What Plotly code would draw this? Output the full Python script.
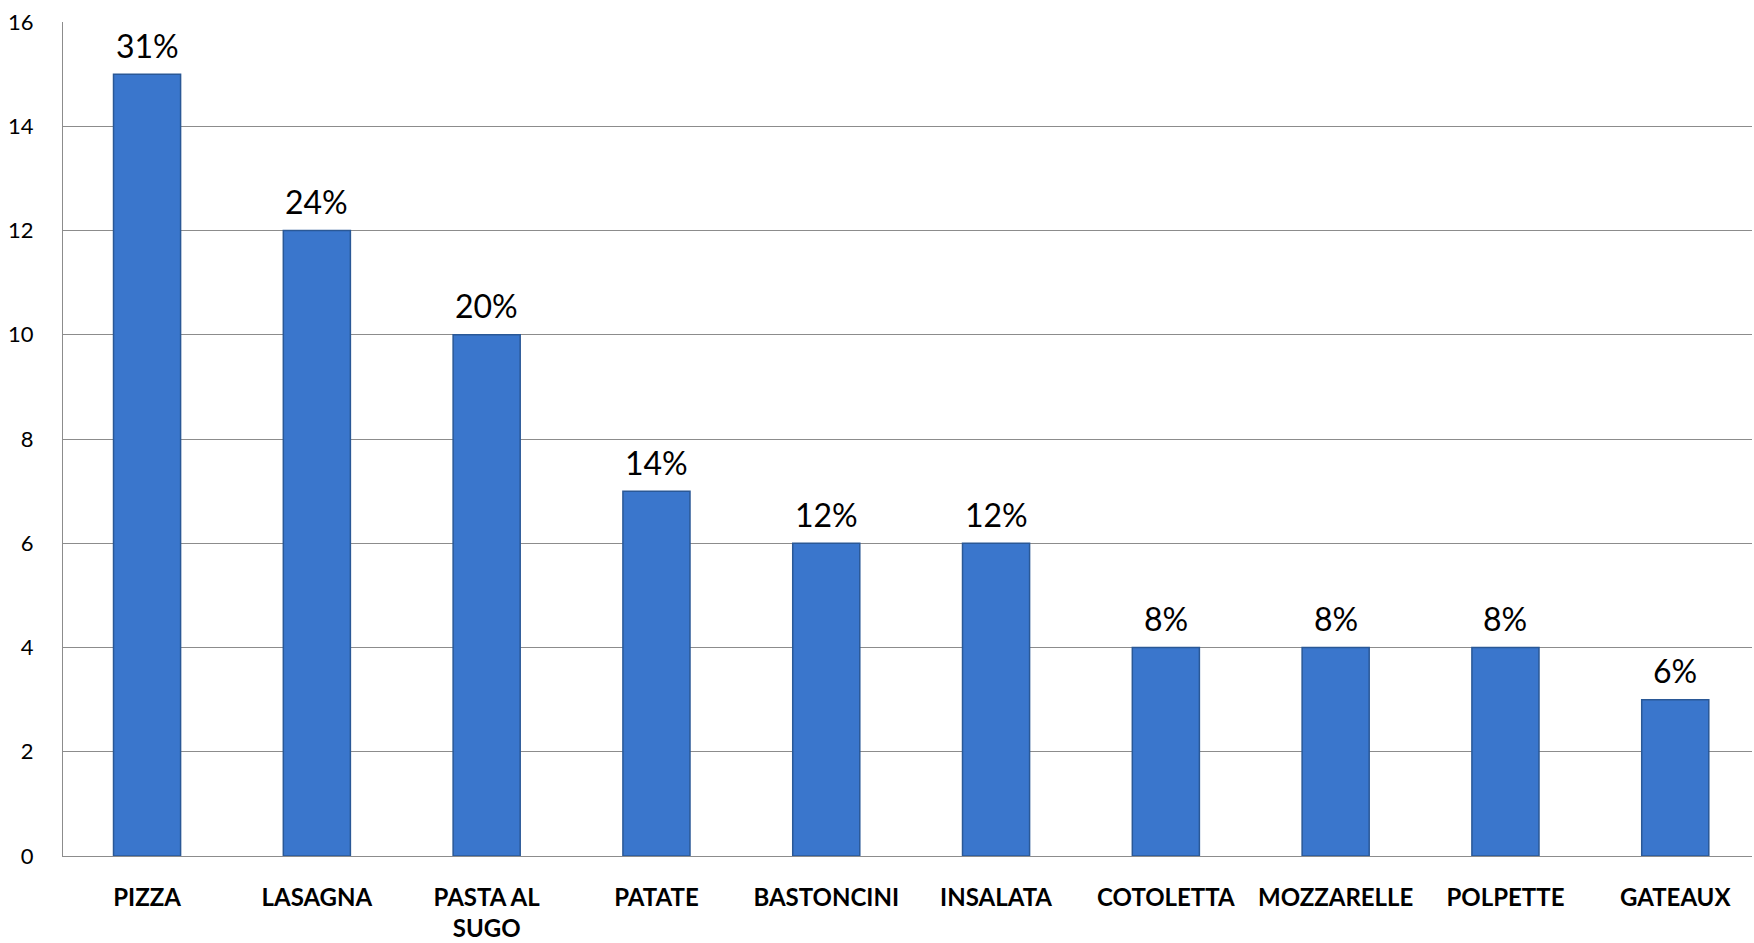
import plotly.graph_objects as go

categories = ["PIZZA", "LASAGNA", "PASTA AL<br>SUGO", "PATATE", "BASTONCINI",
              "INSALATA", "COTOLETTA", "MOZZARELLE", "POLPETTE", "GATEAUX"]
values = [15, 12, 10, 7, 6, 6, 4, 4, 4, 3]
pct_labels = ["31%", "24%", "20%", "14%", "12%", "12%", "8%", "8%", "8%", "6%"]
y_ticks = [0, 2, 4, 6, 8, 10, 12, 14, 16]

FONT = "Lato, Liberation Sans, sans-serif"

fig = go.Figure()
fig.add_trace(go.Bar(
    x=categories, y=values,
    marker=dict(color="#3a76cc", line=dict(color="#2a5896", width=1.5)),
))

for c, v, t in zip(categories, values, pct_labels):
    fig.add_annotation(x=c, y=v, text=t, showarrow=False, yanchor="middle",
                       yshift=29, font=dict(family=FONT, size=32, color="#000000"))

fig.update_layout(
    width=1754, height=943,
    margin=dict(l=63, r=2, t=22, b=87),
    plot_bgcolor="white", paper_bgcolor="white",
    bargap=0.605, showlegend=False,
    font=dict(family=FONT, color="#000000"),
)
fig.update_yaxes(
    range=[0, 16], tickvals=y_ticks, showgrid=True, gridcolor="#8c8c8c", gridwidth=1,
    showline=True, linecolor="#8c8c8c", linewidth=1, zeroline=False,
    tickfont=dict(size=22), ticklabelstandoff=24,
)
fig.update_xaxes(
    range=[-0.495, 9.452],
    showline=True, linecolor="#8c8c8c", linewidth=1,
    tickfont=dict(size=24, family=FONT, weight="bold"),
    ticklabelstandoff=20, tickangle=0,
)
fig.write_html("out.html", config={"displayModeBar": False},
               post_script="document.body.style.margin='0';document.body.style.overflow='hidden';")
